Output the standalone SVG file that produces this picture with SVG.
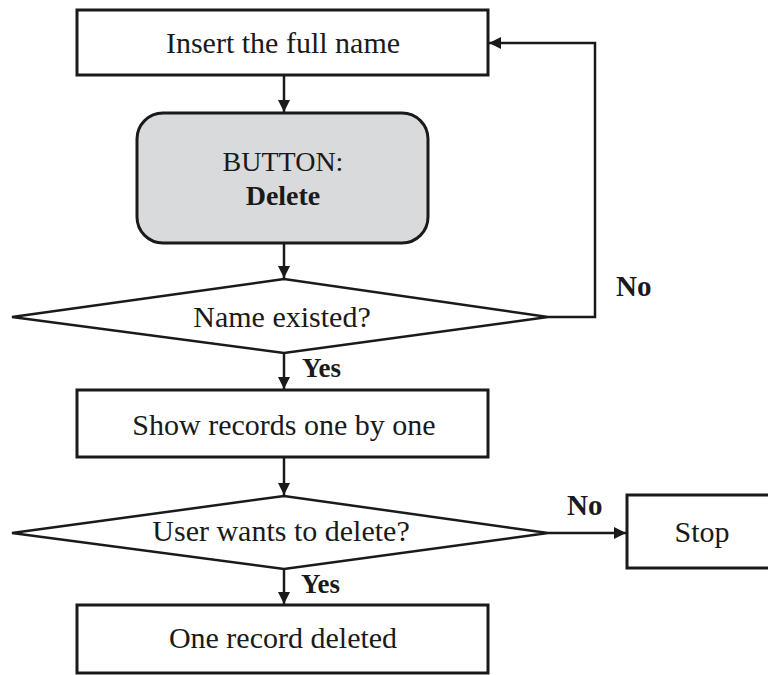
<svg xmlns="http://www.w3.org/2000/svg" width="768" height="675" viewBox="0 0 768 675">
<style>
.box{fill:#fff;stroke:#1a1a1a;stroke-width:3}
.btn{fill:#d9dadc;stroke:#1a1a1a;stroke-width:3}
.dia{fill:#fff;stroke:#1a1a1a;stroke-width:2.5}
.ln{fill:none;stroke:#1a1a1a;stroke-width:2.5}
.t{font-family:"Liberation Serif","Times New Roman",serif;font-size:30px;fill:#1a1a1a;text-anchor:middle}
.b{font-family:"Liberation Serif","Times New Roman",serif;font-size:28px;font-weight:bold;fill:#1a1a1a}
</style>
<defs>
<marker id="ah" viewBox="0 0 12 12" refX="12" refY="6" markerWidth="12" markerHeight="12" markerUnits="userSpaceOnUse" orient="auto">
<path d="M0,0 L12,6 L0,12 Z" fill="#1a1a1a"/>
</marker>
</defs>
<g id="connectors">
<line class="ln" x1="284" y1="75" x2="284" y2="112" marker-end="url(#ah)"/>
<line class="ln" x1="284" y1="243" x2="284" y2="278" marker-end="url(#ah)"/>
<polyline class="ln" points="548,317 595,317 595,43 489,43" marker-end="url(#ah)"/>
<line class="ln" x1="284" y1="353" x2="284" y2="389" marker-end="url(#ah)"/>
<line class="ln" x1="284" y1="457" x2="284" y2="495" marker-end="url(#ah)"/>
<line class="ln" x1="548" y1="533" x2="626" y2="533" marker-end="url(#ah)"/>
<line class="ln" x1="284" y1="569" x2="284" y2="604" marker-end="url(#ah)"/>
<text class="b" x="616" y="296" style="font-size:29px">No</text>
<text class="b" x="302" y="377" style="font-size:27px">Yes</text>
<text class="b" x="567" y="515" style="font-size:29px">No</text>
<text class="b" x="301" y="593" style="font-size:27px">Yes</text>
</g>
<g id="insert">
<rect class="box" x="77" y="10" width="411" height="65"/>
<text class="t" x="283" y="53">Insert the full name</text>
</g>
<g id="button">
<rect class="btn" x="137" y="113" width="291" height="130" rx="26" ry="26"/>
<text class="t" x="283" y="171" style="font-size:28px">BUTTON:</text>
<text class="t" x="283" y="205" style="font-size:28px;font-weight:bold">Delete</text>
</g>
<g id="exists">
<polygon class="dia" points="12,317 284,279 548,317 284,353"/>
<text class="t" x="282" y="327">Name existed?</text>
</g>
<g id="show">
<rect class="box" x="77" y="390" width="411" height="67"/>
<text class="t" x="284" y="435">Show records one by one</text>
</g>
<g id="wants">
<polygon class="dia" points="12,533 284,496 548,533 284,569"/>
<text class="t" x="281" y="541">User wants to delete?</text>
</g>
<g id="stop">
<rect class="box" x="627" y="495" width="160" height="73"/>
<text class="t" x="702" y="542">Stop</text>
</g>
<g id="deleted">
<rect class="box" x="77" y="605" width="411" height="68"/>
<text class="t" x="283" y="648">One record deleted</text>
</g>
</svg>
